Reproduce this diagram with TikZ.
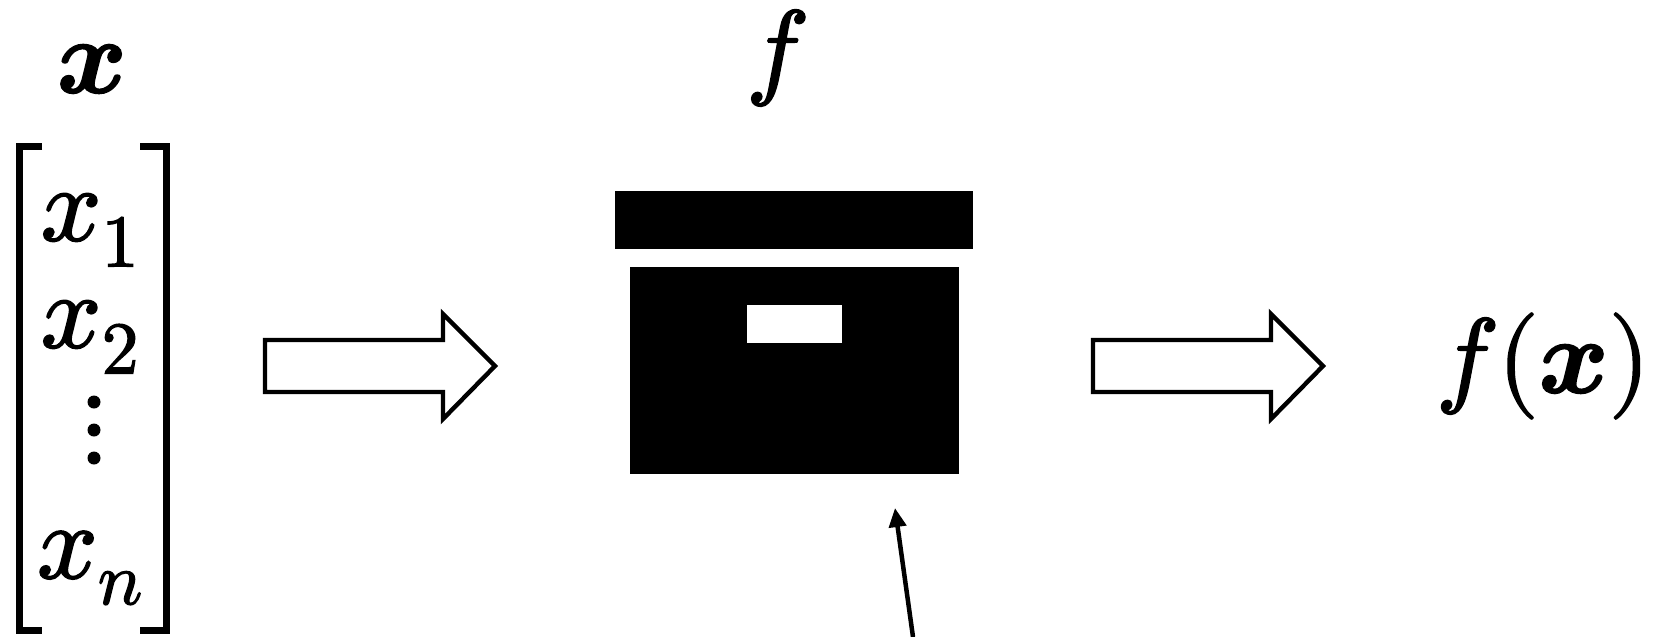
\documentclass[tikz,border=0pt]{standalone}
\usepackage{fontspec}
\usepackage{unicode-math}
\setmathfont[FakeBold=1.8]{Latin Modern Math}
\usetikzlibrary{arrows.meta}
\tikzset{
 lbl/.style={inner sep=0pt,font=\fontsize{106}{110}\selectfont},
 fat/.style={draw=black,fill=white,line width=4.4pt,miter limit=10},
 solid box/.style={fill=black,draw=none},
 brk/.style={line width=7pt,draw=black}
}
\begin{document}
\begin{tikzpicture}[x=1pt,y=-1pt,line join=miter]
\useasboundingbox (0,0) rectangle (1657,637);
\node[lbl] (x) at (92,69) {$\symbfit{x}$};
\node[lbl] (f) at (777,58) {$f$};
\node[lbl] (x1) at (90,230) {$x_1$};
\node[lbl] (x2) at (90,337) {$x_2$};
\node[lbl] (xn) at (90,568) {$x_n$};
\foreach \y in {402,430,458} \fill (94,\y) circle (6.5);
\draw[brk] (42,146) -- (19,146) -- (19,630) -- (42,630);
\draw[brk] (140,146) -- (166,146) -- (166,630) -- (140,630);
\node[solid box,minimum width=358,minimum height=58,inner sep=0pt] (lid) at (794,220) {};
\node[solid box,minimum width=329,minimum height=207,inner sep=0pt] (box) at (794,370) {};
\node[fill=white,minimum width=95,minimum height=38,inner sep=0pt] (hole) at (794,324) {};
\draw[fat] (265,340) -- (443,340) -- (443,314) -- (495,366) -- (443,419) -- (443,392) -- (265,392) -- cycle;
\draw[fat] (1093,340) -- (1271,340) -- (1271,314) -- (1323,366) -- (1271,419) -- (1271,392) -- (1093,392) -- cycle;
\node[lbl] (fx) at (1543,366) {$f(\symbfit{x})$};
\coordinate (a) at (913,637);
\coordinate (b) at (895,508);
\draw[line width=4.5pt,-{Triangle[length=19,width=17]}] (a) -- (b);
\end{tikzpicture}
\end{document}
